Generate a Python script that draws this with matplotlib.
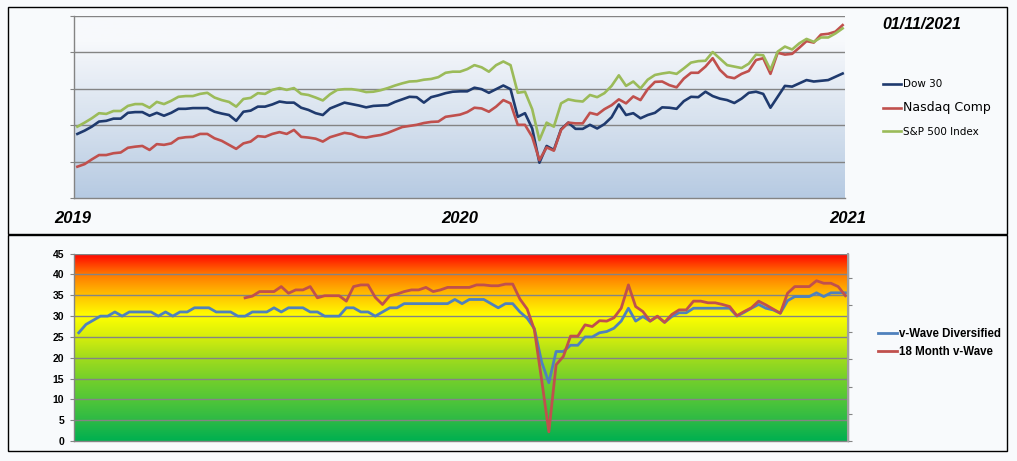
import numpy as np
import matplotlib.pyplot as plt
from matplotlib.colors import LinearSegmentedColormap
from matplotlib.patches import Rectangle

# weekly points, Jan 2019 .. 01/11/2021 (top chart: relative index level, no axis labels)
weeks = np.arange(107)

dow = [17.6, 18.5, 19.6, 21.0, 21.2, 21.8, 21.8, 23.4, 23.6, 23.6, 22.6, 23.4, 22.6, 23.4, 24.5, 24.5,
       24.7, 24.7, 24.7, 23.7, 23.2, 22.8, 21.2, 23.7, 24.0, 25.1, 25.1, 25.7, 26.5, 26.2, 26.2, 24.8,
       24.2, 23.3, 22.8, 24.6, 25.4, 26.2,
       25.8, 25.4, 24.9, 25.3, 25.4, 25.5, 26.4, 27.1, 27.8, 27.7, 26.2, 27.7, 28.2, 28.8, 29.2, 29.3,
       29.3, 30.3, 29.9,
       28.9, 29.9, 30.9, 29.9, 22.3, 23.3, 19.1, 9.7, 14.3, 13.2, 18.9, 20.7, 19.0, 19.0, 20.1, 19.1,
       20.3, 22.2, 25.7, 22.8, 23.3, 21.9, 22.8, 23.4,
       24.9, 24.8, 24.5, 26.6, 27.8, 27.7, 29.2, 28.0, 27.3, 26.9, 26.1, 27.3, 28.9, 29.2, 28.6, 24.8,
       27.8, 30.8, 30.6, 31.5, 32.4, 32.0, 32.2, 32.4, 33.3, 34.2]

nasdaq = [8.6, 9.3, 10.6, 11.8, 11.8, 12.3, 12.5, 13.8, 14.1, 14.3, 13.2, 14.8, 14.6, 15.0, 16.4, 16.7,
          16.8, 17.6, 17.6, 16.4, 15.7, 14.6, 13.5, 15.0, 15.5, 17.0, 16.8, 17.6, 18.1, 17.6, 18.7, 16.8,
          16.6, 16.3, 15.5, 16.7, 17.3, 17.9,
          17.6, 16.8, 16.6, 17.0, 17.3, 17.9, 18.7, 19.5, 19.8, 20.1, 20.6, 20.9, 21.0, 22.3, 22.6, 22.9,
          23.6, 24.8, 24.6,
          23.7, 25.1, 26.9, 26.0, 20.1, 20.1, 16.8, 10.4, 13.9, 13.0, 18.7, 20.7, 20.5, 20.5, 23.4, 22.9,
          24.4, 25.5, 27.1, 26.0, 27.9, 26.9, 29.9, 31.9,
          32.0, 31.0, 30.4, 32.8, 34.4, 34.4, 36.1, 38.4, 35.2, 33.3, 32.9, 34.1, 34.9, 37.9, 38.4, 34.1,
          39.9, 39.4, 39.6, 41.3, 43.1, 42.7, 44.9, 45.1, 45.7, 47.5]

sp500 = [19.6, 20.7, 21.9, 23.3, 23.1, 23.9, 23.9, 25.3, 25.8, 25.8, 24.8, 26.4, 25.8, 26.7, 27.8, 28.0,
         28.0, 28.6, 28.9, 27.6, 26.9, 26.4, 25.1, 27.2, 27.5, 28.8, 28.6, 29.7, 30.2, 29.7, 30.2, 28.6,
         28.3, 27.6, 26.8, 28.5, 29.7, 29.9,
         29.9, 29.6, 29.1, 29.2, 29.6, 30.2, 30.9, 31.5, 32.0, 32.1, 32.5, 32.7, 33.2, 34.4, 34.7, 34.7,
         35.4, 36.5, 35.9,
         34.7, 36.5, 37.5, 36.5, 28.9, 29.2, 24.4, 15.9, 20.7, 19.6, 26.0, 27.1, 26.7, 26.5, 28.3, 27.7,
         28.8, 30.8, 33.7, 30.8, 32.0, 30.1, 32.5, 33.8,
         34.2, 34.5, 34.1, 35.6, 37.2, 37.6, 37.7, 40.1, 38.3, 36.5, 36.1, 35.7, 36.9, 39.4, 39.2, 35.2,
         40.2, 41.6, 40.8, 42.5, 43.7, 42.9, 44.1, 44.1, 45.2, 46.6]

vwave_div = [26, 28, 29, 30, 30, 31, 30, 31, 31, 31, 31, 30, 31, 30, 31, 31, 32, 32, 32, 31,
             31, 31, 30, 30, 31, 31, 31, 32, 31, 32, 32, 32, 31, 31, 30, 30, 30, 32, 32, 31,
             31, 30, 31, 32, 32, 33, 33, 33, 33, 33, 33, 33, 34, 33, 34, 34, 34, 33,
             32, 33, 33, 31, 29.5, 27, 19, 14, 21.5, 21.5, 23, 23, 25, 25, 26,
             26.3, 27.1, 28.8, 31.9, 28.8, 29.9, 28.8, 29.9,
             28.5, 29.9, 30.8, 30.8, 31.9, 31.9, 31.9, 31.9, 31.9, 31.9, 30.0, 30.9, 31.9, 32.8, 31.9,
             31.5, 30.7, 33.7, 34.7, 34.7, 34.7, 35.6, 34.7, 35.6, 35.6, 35.6]

vwave_18m = [np.nan] * 23 + [
    34.4, 34.8, 35.9, 35.9, 35.9, 37.1, 35.5, 36.3, 36.3, 37.1, 34.4, 34.9, 34.9, 34.9, 33.6,
    37.1, 37.5, 37.5, 34.5, 32.8, 34.9, 35.3, 35.9, 36.3, 36.3, 36.9, 35.9, 36.3, 36.9, 36.9, 36.9,
    36.9, 37.5, 37.5,
    37.3, 37.3, 37.7, 37.7, 34.1, 31.7, 26.7, 14.7, 2.2, 18.3, 20.3, 25.2, 25.2, 27.9, 27.5, 28.9,
    28.8, 29.6, 31.9, 37.5, 32.3, 31.1, 28.8, 30.0,
    28.5, 30.4, 31.5, 31.5, 33.6, 33.6, 33.2, 33.2, 32.8, 32.3, 30.1, 31.1, 32.0, 33.6, 32.7, 31.7,
    30.7, 35.5, 37.1, 37.1, 37.1, 38.5, 37.9, 37.9, 37.1, 34.9]

years = ['2019', '2020', '2021']
year_weeks = [-0.7, 53, 106.7]
date_label = '01/11/2021'

bg = '#F8FAFC'
grid_c = '#848484'

fig = plt.figure(figsize=(10.17, 4.61), dpi=100, facecolor=bg)

# panel frames
for y0, h in [(0.4924, 0.4924), (0.0217, 0.4685)]:
    fig.patches.append(Rectangle((0.0079, y0), 0.9823, h, transform=fig.transFigure,
                                 fill=False, edgecolor='black', linewidth=1.0))

# ---- top chart: index lines ----
ax1 = fig.add_axes([0.0728, 0.5705, 0.7581, 0.3948])
xl1 = (-0.46, 106.33)
top_cmap = LinearSegmentedColormap.from_list(
    'top', [(0, '#B6CAE2'), (0.45, '#D9E3EF'), (0.75, '#EEF2F8'), (0.85, '#F7F9FC'), (1, '#F8FAFC')])
ax1.imshow(np.linspace(0, 1, 256).reshape(-1, 1), origin='lower', aspect='auto', cmap=top_cmap,
           extent=[xl1[0], xl1[1], 0, 50], zorder=0)
ax1.plot(weeks, dow, color='#1F3A6E', lw=1.9, label='Dow 30', zorder=3)
ax1.plot(weeks, nasdaq, color='#C0504D', lw=1.9, label='Nasdaq Comp', zorder=3)
ax1.plot(weeks, sp500, color='#9BBB59', lw=1.9, label='S&P 500 Index', zorder=3)
ax1.set_xlim(*xl1)
ax1.set_ylim(0, 50)
ax1.set_yticks(np.arange(0, 51, 10))
ax1.set_yticklabels([])
ax1.set_xticks([])
for v in np.arange(10, 51, 10):
    ax1.axhline(v, color=grid_c, lw=1.0, zorder=1)
for s in ['top', 'right']:
    ax1.spines[s].set_visible(False)
for s in ['left', 'bottom']:
    ax1.spines[s].set_color(grid_c)
    ax1.spines[s].set_linewidth(1.0)
ax1.tick_params(axis='y', length=3, color=grid_c, direction='out')

for lab, w in zip(years, year_weeks):
    ax1.text(w, -5.6, lab, ha='center', va='center', fontsize=12, fontweight='bold', style='italic',
             family='Liberation Sans', clip_on=False)
fig.text(0.9065, 0.946, date_label, ha='center', va='center', fontsize=11.5, fontweight='bold',
         style='italic', family='Liberation Sans')

leg1 = ax1.legend(loc='center left', bbox_to_anchor=(0.863, 0.766), bbox_transform=fig.transFigure,
                  frameon=False, fontsize=7, handlelength=1.9, handletextpad=0.2, labelspacing=1.28,
                  borderpad=0)
for t, fs in zip(leg1.get_texts(), [7.5, 9, 7.5]):
    t.set_fontsize(fs)

# ---- bottom chart: v-Wave indicator ----
ax2 = fig.add_axes([0.0728, 0.0434, 0.7611, 0.4063])
xl2 = (-0.65, 106.37)
bot_cmap = LinearSegmentedColormap.from_list(
    'bot', [(0, '#00B050'), (5 / 45, '#2DBA45'), (10 / 45, '#52C638'), (15 / 45, '#76D02A'),
            (20 / 45, '#A2DC1C'), (25 / 45, '#D6EE0C'), (30 / 45, '#FFFF00'), (35 / 45, '#FFC000'),
            (40 / 45, '#FF7800'), (1, '#FF0000')])
ax2.imshow(np.linspace(0, 1, 256).reshape(-1, 1), origin='lower', aspect='auto', cmap=bot_cmap,
           extent=[xl2[0], xl2[1], 0, 45], zorder=0)
ax2.plot(weeks, vwave_div, color='#4F81BD', lw=2.0, label='v-Wave Diversified', zorder=3)
ax2.plot(weeks, vwave_18m, color='#C0504D', lw=2.0, label='18 Month v-Wave', zorder=3)
ax2.set_xlim(*xl2)
ax2.set_ylim(0, 45)
ax2.set_yticks(np.arange(0, 46, 5))
ax2.set_xticks([])
for v in np.arange(5, 46, 5):
    ax2.axhline(v, color=grid_c, lw=1.0, zorder=1)
ax2.spines['top'].set_visible(False)
for s in ['left', 'bottom', 'right']:
    ax2.spines[s].set_color(grid_c)
    ax2.spines[s].set_linewidth(1.0)
ax2.tick_params(axis='y', length=3, color=grid_c, pad=4, labelsize=7.5)
for t in ax2.get_yticklabels():
    t.set_fontweight('bold')
    t.set_family('Liberation Sans')

ax3 = ax2.twinx()
ax3.set_ylim(0, 6.886)
ax3.set_yticks(np.arange(0, 7))
ax3.set_yticklabels([])
ax3.tick_params(axis='y', length=3, color=grid_c)
for s in ['top', 'left', 'bottom']:
    ax3.spines[s].set_visible(False)
ax3.spines['right'].set_color('#A0A0A0')
ax3.spines['right'].set_linewidth(1.5)

leg2 = ax2.legend(loc='center left', bbox_to_anchor=(0.858, 0.256), bbox_transform=fig.transFigure,
                  frameon=False, prop={'family': 'Liberation Sans', 'weight': 'bold', 'size': 8.3},
                  handlelength=1.6, handletextpad=0.2, labelspacing=0.55, borderpad=0)

fig.savefig('out.png', dpi=100, facecolor=bg)
